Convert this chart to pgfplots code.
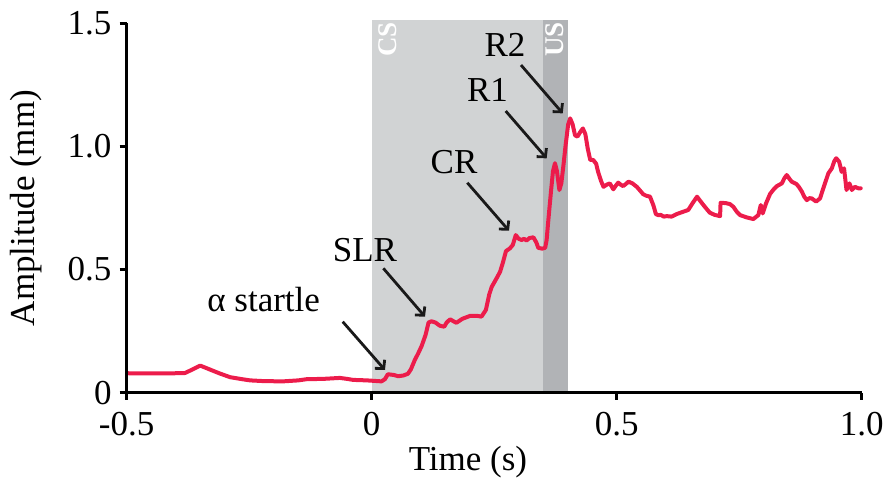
\documentclass[border=0pt]{standalone}
\usepackage{fontspec}
\setmainfont{Liberation Serif}
\usepackage{pgfplots}
\pgfplotsset{compat=1.18}
\usetikzlibrary{arrows.meta}
\definecolor{cslight}{HTML}{D1D3D4}
\definecolor{usdark}{HTML}{B1B3B6}
\definecolor{trace}{HTML}{EC1C4B}
\begin{document}
\fontsize{35bp}{42bp}\selectfont
\begin{tikzpicture}
\path[use as bounding box] (0,0) rectangle (886bp,482bp);
\begin{axis}[
  at={(126.7bp,89.3bp)}, anchor=south west,
  scale only axis, width=735bp, height=369.4bp,
  xmin=-0.5, xmax=1.0, ymin=0, ymax=1.5,
  clip=false, axis on top,
  axis lines*=left,
  axis line style={line width=3bp, black},
  xtick={-0.5,0,0.5,1}, xticklabels={-0.5,0,0.5,1.0},
  ytick={0,0.5,1,1.5}, yticklabels={0,0.5,1.0,1.5},
  tick align=outside, major tick length=7bp,
  tick style={line width=2.5bp, black},
  xticklabel style={inner sep=0pt, anchor=north, yshift=-12bp},
  yticklabel style={inner sep=0pt, anchor=east, xshift=-8bp},
  xlabel={Time (s)},
  xlabel style={at={(axis description cs:0.4643,-0.2093)}, anchor=base, inner sep=0pt},
  ylabel={Amplitude (mm)},
  ylabel style={at={(axis description cs:-0.1248,0.5)}, anchor=base, inner sep=0pt},
]
% CS and US shaded periods
\addplot[draw=none, fill=cslight] coordinates {(0,1.513) (0.35,1.513)} \closedcycle;
\addplot[draw=none, fill=usdark] coordinates {(0.35,1.513) (0.40,1.513)} \closedcycle;

% trace
\addplot[trace, line width=4bp, line join=round, line cap=round] coordinates {
(-0.497,0.079) (-0.45,0.078) (-0.40,0.079) (-0.381,0.080) (-0.365,0.095) (-0.350,0.110) (-0.335,0.098) (-0.31,0.078) (-0.289,0.063) (-0.265,0.055) (-0.248,0.050) (-0.22,0.047) (-0.181,0.046) (-0.15,0.050) (-0.132,0.055) (-0.10,0.056) (-0.065,0.060) (-0.05,0.056) (-0.038,0.052) (-0.01,0.050) (0.02,0.046) (0.027,0.055) (0.033,0.075) (0.045,0.072) (0.054,0.067) (0.065,0.070) (0.074,0.077) (0.080,0.095) (0.088,0.133) (0.095,0.160) (0.102,0.190) (0.110,0.235) (0.116,0.285) (0.122,0.290) (0.130,0.285) (0.139,0.272) (0.148,0.268) (0.153,0.285) (0.160,0.298) (0.167,0.290) (0.173,0.284) (0.185,0.300) (0.201,0.312) (0.215,0.312) (0.224,0.309) (0.233,0.336) (0.240,0.40) (0.245,0.43) (0.255,0.465) (0.262,0.491) (0.268,0.53) (0.274,0.575) (0.282,0.586) (0.288,0.600) (0.294,0.640) (0.300,0.625) (0.306,0.620) (0.311,0.625) (0.316,0.618) (0.322,0.628) (0.330,0.631) (0.336,0.610) (0.340,0.588) (0.348,0.585) (0.354,0.588) (0.357,0.62) (0.360,0.69) (0.366,0.82) (0.370,0.90) (0.374,0.932) (0.378,0.90) (0.383,0.823) (0.387,0.85) (0.391,0.918) (0.396,1.01) (0.401,1.09) (0.405,1.114) (0.410,1.09) (0.415,1.045) (0.420,1.04) (0.426,1.06) (0.431,1.073) (0.436,1.05) (0.441,0.99) (0.446,0.945) (0.452,0.945) (0.458,0.93) (0.462,0.897) (0.468,0.86) (0.473,0.836) (0.480,0.845) (0.486,0.850) (0.493,0.826) (0.498,0.84) (0.503,0.853) (0.508,0.845) (0.513,0.839) (0.519,0.848) (0.524,0.857) (0.532,0.850) (0.541,0.836) (0.548,0.820) (0.554,0.806) (0.560,0.800) (0.568,0.796) (0.575,0.76) (0.580,0.725) (0.585,0.721) (0.590,0.722) (0.596,0.715) (0.602,0.717) (0.612,0.715) (0.622,0.725) (0.636,0.735) (0.646,0.742) (0.655,0.77) (0.664,0.796) (0.670,0.78) (0.677,0.762) (0.684,0.745) (0.690,0.731) (0.700,0.722) (0.711,0.717) (0.712,0.771) (0.722,0.770) (0.731,0.766) (0.738,0.755) (0.745,0.735) (0.752,0.721) (0.765,0.712) (0.779,0.705) (0.785,0.715) (0.789,0.721) (0.794,0.762) (0.798,0.728) (0.805,0.770) (0.813,0.807) (0.820,0.825) (0.827,0.839) (0.837,0.850) (0.842,0.870) (0.847,0.884) (0.852,0.870) (0.857,0.857) (0.867,0.847) (0.872,0.835) (0.878,0.816) (0.883,0.795) (0.888,0.782) (0.893,0.790) (0.898,0.789) (0.907,0.776) (0.915,0.789) (0.920,0.82) (0.925,0.850) (0.932,0.891) (0.939,0.911) (0.944,0.94) (0.948,0.952) (0.954,0.938) (0.959,0.897) (0.964,0.911) (0.969,0.823) (0.975,0.850) (0.980,0.823) (0.986,0.836) (0.993,0.830) (0.998,0.83)
};

% period labels
\node[rotate=90, anchor=base east, inner sep=0pt, text=white, font=\fontsize{27bp}{30bp}\selectfont\bfseries] at (axis cs:0.051,1.505) {CS};
\node[rotate=90, anchor=base east, inner sep=0pt, text=white, font=\fontsize{27bp}{30bp}\selectfont\bfseries] at (axis cs:0.3924,1.505) {US};

% annotations
\node[anchor=base, inner sep=0pt] at (axis cs:-0.2204,0.3289) {α startle};
\node[anchor=base, inner sep=0pt] at (axis cs:-0.0137,0.532) {SLR};
\node[anchor=base, inner sep=0pt] at (axis cs:0.168,0.891) {CR};
\node[anchor=base, inner sep=0pt] at (axis cs:0.2363,1.1815) {R1};
\node[anchor=base, inner sep=0pt] at (axis cs:0.272,1.364) {R2};

\begin{scope}[line width=2.8bp, black!90, -{Straight Barb[length=6bp,width=13bp]}]
\draw (axis cs:-0.0592,0.2883) -- (axis cs:0.0271,0.0922);
\draw (axis cs:0.0237,0.5051) -- (axis cs:0.1088,0.3086);
\draw (axis cs:0.1951,0.8526) -- (axis cs:0.2802,0.6577);
\draw (axis cs:0.2735,1.1437) -- (axis cs:0.3571,0.9517);
\draw (axis cs:0.3047,1.3305) -- (axis cs:0.3898,1.1344);
\end{scope}
\end{axis}
\end{tikzpicture}
\end{document}
